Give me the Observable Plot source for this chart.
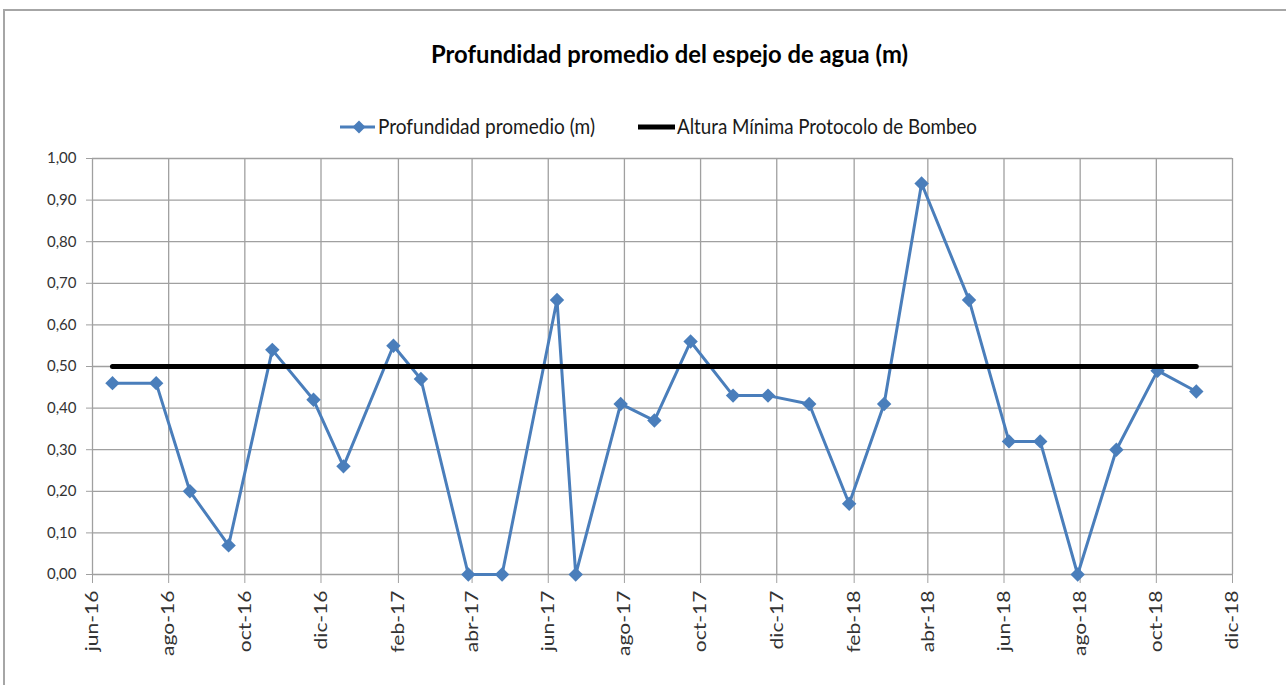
<!DOCTYPE html>
<html>
<head>
<meta charset="utf-8">
<script src="https://cdn.jsdelivr.net/npm/d3@7"></script>
<script src="https://cdn.jsdelivr.net/npm/@observablehq/plot@0.6"></script>
<style>
  html, body { margin: 0; padding: 0; background: #ffffff; }
  body { width: 1286px; height: 685px; overflow: hidden; position: relative; font-family: Lato, "Open Sans", sans-serif; }
  #frame { position: absolute; left: 3px; top: 9px; width: 1300px; height: 700px; border-top: 2px solid #a6a6a6; border-left: 2px solid #a6a6a6; }
  #head { position: absolute; left: 0; top: 0; }
  #chart { position: absolute; left: 0; top: 140px; }
</style>
</head>
<body>
<div id="frame"></div>
<svg id="head" width="1286" height="140" xmlns="http://www.w3.org/2000/svg">
  <text x="431" y="63" font-family="Lato" font-weight="bold" font-size="25" fill="#000" textLength="477" lengthAdjust="spacingAndGlyphs">Profundidad promedio del espejo de agua (m)</text>
  <line x1="340" y1="127" x2="375" y2="127" stroke="#4a7ebb" stroke-width="3"/>
  <path d="M359,120.5 L365.5,127 L359,133.5 L352.5,127 Z" fill="#4a7ebb"/>
  <text x="378" y="133.5" font-family="Lato" font-size="21" fill="#1a1a1a" textLength="217" lengthAdjust="spacingAndGlyphs">Profundidad promedio (m)</text>
  <line x1="638" y1="127" x2="675" y2="127" stroke="#000" stroke-width="5"/>
  <text x="677" y="133.5" font-family="Lato" font-size="21" fill="#1a1a1a" textLength="300" lengthAdjust="spacingAndGlyphs">Altura Mínima Protocolo de Bombeo</text>
</svg>
<div id="chart"></div>
<script>
// ---- data ----
const dates = [
  "2016-06-17","2016-07-22","2016-08-18","2016-09-18","2016-10-23","2016-11-25","2016-12-19",
  "2017-01-28","2017-02-19","2017-03-29","2017-04-25","2017-06-08","2017-06-23","2017-07-29",
  "2017-08-25","2017-09-23","2017-10-27","2017-11-24","2017-12-27","2018-01-28","2018-02-25",
  "2018-03-27","2018-05-04","2018-06-05","2018-06-30","2018-07-30","2018-08-30","2018-10-02","2018-11-02"
];
const depth = [
  0.46, 0.46, 0.20, 0.07, 0.54, 0.42, 0.26,
  0.55, 0.47, 0.00, 0.00, 0.66, 0.00, 0.41,
  0.37, 0.56, 0.43, 0.43, 0.41, 0.17, 0.41,
  0.94, 0.66, 0.32, 0.32, 0.00, 0.30, 0.49, 0.44
];
const minimumLevel = 0.50;
const xTickDates = ["2016-06-01","2016-08-01","2016-10-01","2016-12-01","2017-02-01","2017-04-01","2017-06-01","2017-08-01","2017-10-01","2017-12-01","2018-02-01","2018-04-01","2018-06-01","2018-08-01","2018-10-01","2018-12-01"];
const xTickLabels = ["jun-16","ago-16","oct-16","dic-16","feb-17","abr-17","jun-17","ago-17","oct-17","dic-17","feb-18","abr-18","jun-18","ago-18","oct-18","dic-18"];
const yTicks = [0, 0.1, 0.2, 0.3, 0.4, 0.5, 0.6, 0.7, 0.8, 0.9, 1.0];
const yTickLabels = ["0,00","0,10","0,20","0,30","0,40","0,50","0,60","0,70","0,80","0,90","1,00"];

// ---- build tables ----
const series = dates.map((d, i) => ({date: new Date(d), value: depth[i]}));
const threshold = [
  {date: series[0].date, value: minimumLevel},
  {date: series[series.length - 1].date, value: minimumLevel}
];
const xTicks = xTickDates.map(d => new Date(d));
const xLabelMap = new Map(xTicks.map((d, i) => [+d, xTickLabels[i]]));
const yLabelMap = new Map(yTicks.map((d, i) => [d.toFixed(2), yTickLabels[i]]));

const gridColor = "#a0a0a0";
const chart = Plot.plot({
  width: 1286,
  height: 545,
  marginLeft: 92,
  marginRight: 54,
  marginTop: 18,
  marginBottom: 111,
  style: {fontFamily: "Lato, 'Open Sans', sans-serif", fontSize: "15px", color: "#333333", background: "transparent", overflow: "visible"},
  x: {type: "utc", domain: [xTicks[0], xTicks[xTicks.length - 1]]},
  y: {domain: [0, 1]},
  marks: [
    Plot.gridY(yTicks, {stroke: gridColor, strokeOpacity: 1, strokeWidth: 1.3}),
    Plot.gridX(xTicks, {stroke: gridColor, strokeOpacity: 1, strokeWidth: 1.3}),
    Plot.axisY(yTicks, {tickFormat: d => yLabelMap.get(d.toFixed(2)), tickSize: 6, tickPadding: 10, stroke: gridColor, label: null, fontSize: 15}),
    Plot.axisX(xTicks, {tickFormat: d => xLabelMap.get(+d), tickRotate: -90, tickSize: 9, tickPadding: 7, stroke: gridColor, label: null, fontSize: 18}),
    Plot.line(series, {x: "date", y: "value", stroke: "#4a7ebb", strokeWidth: 3}),
    Plot.dot(series, {x: "date", y: "value", symbol: "diamond2", r: 6.5, fill: "#4a7ebb", stroke: "none"}),
    Plot.line(threshold, {x: "date", y: "value", stroke: "#000000", strokeWidth: 5})
  ]
});
document.getElementById("chart").appendChild(chart);
// stretch rotated x tick labels along their reading direction
d3.select(chart).selectAll('g[aria-label="x-axis tick label"] text').each(function() {
  const t = this.getAttribute("transform") || "";
  this.setAttribute("transform", t + " scale(1.17,1)");
});
</script>
</body>
</html>
